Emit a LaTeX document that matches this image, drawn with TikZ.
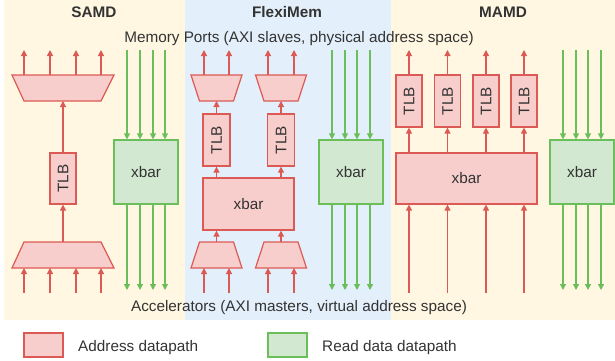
\documentclass[tikz,border=0pt]{standalone}
\usepackage{fontspec}
\usepackage{graphicx}
\setmainfont{Liberation Sans}
\usetikzlibrary{arrows.meta,positioning}

\definecolor{addrline}{HTML}{DB5A55}
\definecolor{addrfill}{HTML}{F8CECC}
\definecolor{dataline}{HTML}{6ABF5A}
\definecolor{datafill}{HTML}{D2E8D1}
\definecolor{samdbg}{HTML}{FFF7E2}
\definecolor{flexbg}{HTML}{E3EFFA}
\definecolor{txt}{HTML}{333333}

\begin{document}
\begin{tikzpicture}[x=1pt, y=-1pt, font=\fontsize{15.3}{18}\selectfont, text=txt,
  abox/.style={draw=addrline, fill=addrfill, line width=1.2pt, inner sep=0pt},
  dbox/.style={draw=dataline, fill=datafill, line width=1.2pt, inner sep=0pt,
               minimum width=64pt, minimum height=64pt},
  mux/.style={draw=addrline, fill=addrfill, line width=1.2pt, line join=miter},
  title/.style={font=\fontsize{15.3}{18}\selectfont\bfseries, anchor=base, inner sep=0pt},
  caption/.style={anchor=base, inner sep=0pt},
  aarr/.style={-{Triangle[length=6pt,width=6pt]}, line width=1.2pt, color=addrline},
  darr/.style={-{Triangle[length=6pt,width=6pt]}, line width=1.2pt, color=dataline}
]
  \useasboundingbox (0,0) rectangle (615,360);

  % column backgrounds
  \fill[samdbg] (4,0) rectangle (185,320);
  \fill[flexbg] (185,0) rectangle (391,320);
  \fill[samdbg] (391,0) rectangle (615,320);

  \node[title] (tsamd) at (94,17) {SAMD};
  \node[title] (tflex) at (287,17) {FlexiMem};
  \node[title] (tmamd) at (503,17) {MAMD};

  \node[caption] (ports) at (299,42) {Memory Ports (AXI slaves, physical address space)};
  \node[caption] (accel) at (299,311) {Accelerators (AXI masters, virtual address space)};

  % SAMD
  \draw[mux] (12,75) -- (114,75) -- (101,101) -- (24,101) -- cycle;
  \coordinate (samdmuxo) at (63,101);
  \draw[mux] (24,242) -- (101,242) -- (114,268) -- (12,268) -- cycle;
  \coordinate (samdmuxi) at (63,242);
  \node[abox, minimum width=26pt, minimum height=51pt]
        (samdtlb) at (63,178.5) {\rotatebox{90}{TLB}};
  \node[dbox] (samdxbar) at (146,172) {xbar};

  \draw[aarr] (samdmuxi) -- (samdtlb);
  \draw[aarr] (samdtlb) -- (samdmuxo);
  \foreach \x in {24,50,76,101} {
    \coordinate (samdout\x) at (\x,50);
    \coordinate (samdin\x) at (\x,293);
    \draw[aarr] (samdout\x |- 0,75) -- (samdout\x);
    \draw[aarr] (samdin\x) -- (samdin\x |- 0,268);
  }
  \foreach \x in {127,140,153,165} {
    \coordinate (samdrd\x) at (\x,50);
    \coordinate (samdacc\x) at (\x,290);
    \draw[darr] (samdrd\x) -- (samdrd\x |- samdxbar.north);
    \draw[darr] (samdrd\x |- samdxbar.south) -- (samdacc\x);
  }

  % FlexiMem
  \draw[mux] (191,75) -- (242,75) -- (233.5,101) -- (199.5,101) -- cycle;
  \coordinate (flexmuxoa) at (216.5,101);
  \draw[mux] (255.5,75) -- (306.5,75) -- (298,101) -- (264,101) -- cycle;
  \coordinate (flexmuxob) at (281,101);
  \draw[mux] (199.5,242) -- (233.5,242) -- (242,268) -- (191,268) -- cycle;
  \coordinate (flexmuxia) at (216.5,242);
  \draw[mux] (264,242) -- (298,242) -- (306.5,268) -- (255.5,268) -- cycle;
  \coordinate (flexmuxib) at (281,242);
  \node[abox, minimum width=27pt, minimum height=52pt]
        (flextlba) at (216.5,140) {\rotatebox{90}{TLB}};
  \node[abox, minimum width=27pt, minimum height=52pt]
        (flextlbb) at (281,140) {\rotatebox{90}{TLB}};
  \node[abox, minimum width=91pt, minimum height=52pt]
        (flexxbar) at (248.5,204) {xbar};
  \node[dbox] (flexrdxbar) at (351,172) {xbar};

  \draw[aarr] (flextlba) -- (flexmuxoa);
  \draw[aarr] (flextlbb) -- (flexmuxob);
  \draw[aarr] (flexxbar.north -| flextlba) -- (flextlba);
  \draw[aarr] (flexxbar.north -| flextlbb) -- (flextlbb);
  \draw[aarr] (flexmuxia) -- (flexmuxia |- flexxbar.south);
  \draw[aarr] (flexmuxib) -- (flexmuxib |- flexxbar.south);
  \foreach \x in {204,229,268,294} {
    \coordinate (flexout\x) at (\x,50);
    \coordinate (flexin\x) at (\x,293);
    \draw[aarr] (flexout\x |- 0,75) -- (flexout\x);
    \draw[aarr] (flexin\x) -- (flexin\x |- 0,268);
  }
  \foreach \x in {332,345,357,370} {
    \coordinate (flexrd\x) at (\x,50);
    \coordinate (flexacc\x) at (\x,290);
    \draw[darr] (flexrd\x) -- (flexrd\x |- flexrdxbar.north);
    \draw[darr] (flexrd\x |- flexrdxbar.south) -- (flexacc\x);
  }

  % MAMD
  \node[abox, minimum width=141pt, minimum height=51pt]
        (mamdxbar) at (466.5,178.5) {xbar};
  \foreach \x [count=\i] in {409,447.5,486,524} {
    \node[abox, minimum width=26pt, minimum height=52pt]
          (mamdtlb\i) at (\x,101) {\rotatebox{90}{TLB}};
    \coordinate (mamdout\i) at (\x,50);
    \coordinate (mamdin\i) at (\x,293);
    \draw[aarr] (mamdtlb\i) -- (mamdout\i);
    \draw[aarr] (mamdxbar.north -| mamdtlb\i) -- (mamdtlb\i);
    \draw[aarr] (mamdin\i) -- (mamdin\i |- mamdxbar.south);
  }
  \node[dbox] (mamdrdxbar) at (582,172) {xbar};
  \foreach \x in {563,576,588,601} {
    \coordinate (mamdrd\x) at (\x,50);
    \coordinate (mamdacc\x) at (\x,290);
    \draw[darr] (mamdrd\x) -- (mamdrd\x |- mamdrdxbar.north);
    \draw[darr] (mamdrd\x |- mamdrdxbar.south) -- (mamdacc\x);
  }

  % legend
  \node[abox, minimum width=39pt, minimum height=24pt] (legaddr) at (43.5,345) {};
  \node[caption, anchor=base west] (legaddrtxt) at (78,351) {Address datapath};
  \node[dbox, minimum width=39pt, minimum height=24pt] (legdata) at (287.5,345) {};
  \node[caption, anchor=base west] (legdatatxt) at (322,351) {Read data datapath};
\end{tikzpicture}
\end{document}
